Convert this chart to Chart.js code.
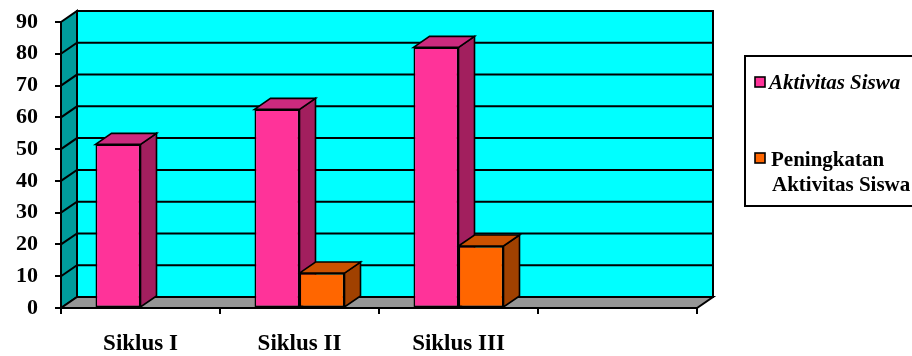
<!DOCTYPE html>
<html>
<head>
<meta charset="utf-8">
<script src="https://cdn.jsdelivr.net/npm/chart.js@4.4.1/dist/chart.umd.min.js"></script>
<style>
  html, body { margin: 0; padding: 0; background: #ffffff; }
  #wrap { position: relative; width: 912px; height: 356px; }
</style>
</head>
<body>
<div id="wrap"><canvas id="chart" width="912" height="356"></canvas></div>
<script>
// Categories along the floor (the fourth slot is left empty)
const categories = ['Siklus I', 'Siklus II', 'Siklus III', ''];
// Activity score per cycle
const aktivitasSiswa = [51.5, 62.5, 82, null];
// Increase from the previous cycle
const peningkatanAktivitas = [null, 11, 19.5, null];
// Value axis
const yMin = 0;
const yMax = 90;
const yStep = 10;
// Legend text, one list of lines per series
const legendLines = [['Aktivitas Siswa'], ['Peningkatan', 'Aktivitas Siswa']];

const SERIF = '"Liberation Serif", "Times New Roman", serif';
const DEPTH = { dx: 16, dy: 11 };

const faceColors = [
  { front: '#FF3399', top: '#CC2A7E', side: '#A21F5E' },
  { front: '#FF6600', top: '#CC5200', side: '#A04100' }
];

function poly(ctx, pts, fill) {
  ctx.beginPath();
  ctx.moveTo(pts[0][0], pts[0][1]);
  for (let i = 1; i < pts.length; i++) ctx.lineTo(pts[i][0], pts[i][1]);
  ctx.closePath();
  if (fill) { ctx.fillStyle = fill; ctx.fill(); }
  ctx.stroke();
}

// Walls, floor, grid and the receding faces of the bars
const box3d = {
  id: 'box3d',
  beforeDatasetsDraw(chart) {
    const { ctx, chartArea } = chart;
    const { left, right, top, bottom } = chartArea;
    const y = chart.scales.y;
    const dx = DEPTH.dx, dy = DEPTH.dy;
    ctx.save();
    ctx.lineJoin = 'miter';
    ctx.strokeStyle = '#000000';
    ctx.lineWidth = 2;

    // side wall, back wall, floor
    poly(ctx, [[left, top], [left + dx, top - dy], [left + dx, bottom - dy], [left, bottom]], '#009C9C');
    poly(ctx, [[left + dx, top - dy], [right + dx, top - dy], [right + dx, bottom - dy], [left + dx, bottom - dy]], '#00FFFF');
    poly(ctx, [[left, bottom], [left + dx, bottom - dy], [right + dx, bottom - dy], [right, bottom]], '#969696');

    // grid lines running across the side wall and the back wall
    for (let v = yMin + yStep; v < yMax; v += yStep) {
      const py = y.getPixelForValue(v);
      ctx.beginPath();
      ctx.moveTo(left, py);
      ctx.lineTo(left + dx, py - dy);
      ctx.lineTo(right + dx, py - dy);
      ctx.stroke();
    }

    // side and top faces, category by category so neighbours overlap correctly
    ctx.lineWidth = 1.6;
    const metas = chart.data.datasets.map((d, i) => chart.getDatasetMeta(i));
    for (let c = 0; c < categories.length; c++) {
      metas.forEach((meta, di) => {
        const raw = chart.data.datasets[di].data[c];
        if (raw === null || raw === undefined) return;
        const el = meta.data[c];
        const p = el.getProps(['x', 'y', 'base', 'width'], true);
        const x0 = p.x - p.width / 2, x1 = p.x + p.width / 2;
        const col = faceColors[di];
        poly(ctx, [[x1, p.y], [x1 + dx, p.y - dy], [x1 + dx, p.base - dy], [x1, p.base]], col.side);
        poly(ctx, [[x0, p.y], [x0 + dx, p.y - dy], [x1 + dx, p.y - dy], [x1, p.y]], col.top);
      });
    }
    ctx.restore();
  },
  afterDraw(chart) {
    const { ctx } = chart;
    ctx.save();
    ctx.strokeStyle = '#000000';
    ctx.lineWidth = 2;
    ctx.strokeRect(745, 56, 180, 150);

    const rows = [
      { sq: 77, base: 89, italic: true },
      { sq: 153, base: 166, italic: false }
    ];
    chart.data.datasets.forEach((ds, i) => {
      const r = rows[i];
      ctx.fillStyle = faceColors[i].front;
      ctx.lineWidth = 1.6;
      ctx.fillRect(755, r.sq, 10, 10);
      ctx.strokeRect(755, r.sq, 10, 10);
      ctx.fillStyle = '#000000';
      ctx.font = (r.italic ? 'italic ' : '') + 'bold 21px ' + SERIF;
      ctx.textAlign = 'left';
      ctx.textBaseline = 'alphabetic';
      legendLines[i].forEach((line, k) => {
        ctx.fillText(line, i === 0 ? 769 : 771 + k, r.base + k * 25);
      });
    });
    ctx.restore();
  }
};

new Chart(document.getElementById('chart'), {
  type: 'bar',
  data: {
    labels: categories,
    datasets: [
      {
        label: legendLines[0].join(' '),
        data: aktivitasSiswa,
        backgroundColor: faceColors[0].front,
        borderColor: '#000000',
        borderWidth: 1.6,
        borderSkipped: false
      },
      {
        label: legendLines[1].join(' '),
        data: peningkatanAktivitas,
        backgroundColor: faceColors[1].front,
        borderColor: '#000000',
        borderWidth: 1.6,
        borderSkipped: false
      }
    ]
  },
  options: {
    responsive: false,
    animation: false,
    events: [],
    layout: { padding: { top: 22, right: 215, left: 0, bottom: 0 } },
    datasets: { bar: { categoryPercentage: 0.566, barPercentage: 1 } },
    plugins: { legend: { display: false }, tooltip: { enabled: false } },
    scales: {
      x: {
        offset: true,
        afterFit(scale) { scale.height = 48; scale.paddingLeft = 0; scale.paddingRight = 0; },
        grid: { offset: true, drawOnChartArea: false, drawTicks: true, tickLength: 6, color: '#000000', lineWidth: 2 },
        border: { display: true, color: '#000000', width: 2 },
        ticks: { color: '#000000', padding: 16, maxRotation: 0, font: { family: SERIF, size: 23, weight: 'bold' } }
      },
      y: {
        min: yMin,
        max: yMax,
        afterFit(scale) { scale.width = 61; scale.paddingTop = 0; scale.paddingBottom = 0; },
        grid: { drawOnChartArea: false, drawTicks: true, tickLength: 6, color: '#000000', lineWidth: 2 },
        border: { display: true, color: '#000000', width: 2 },
        ticks: { stepSize: yStep, color: '#000000', padding: 17, font: { family: SERIF, size: 22, weight: 'bold' } }
      }
    }
  },
  plugins: [box3d]
});
</script>
</body>
</html>
